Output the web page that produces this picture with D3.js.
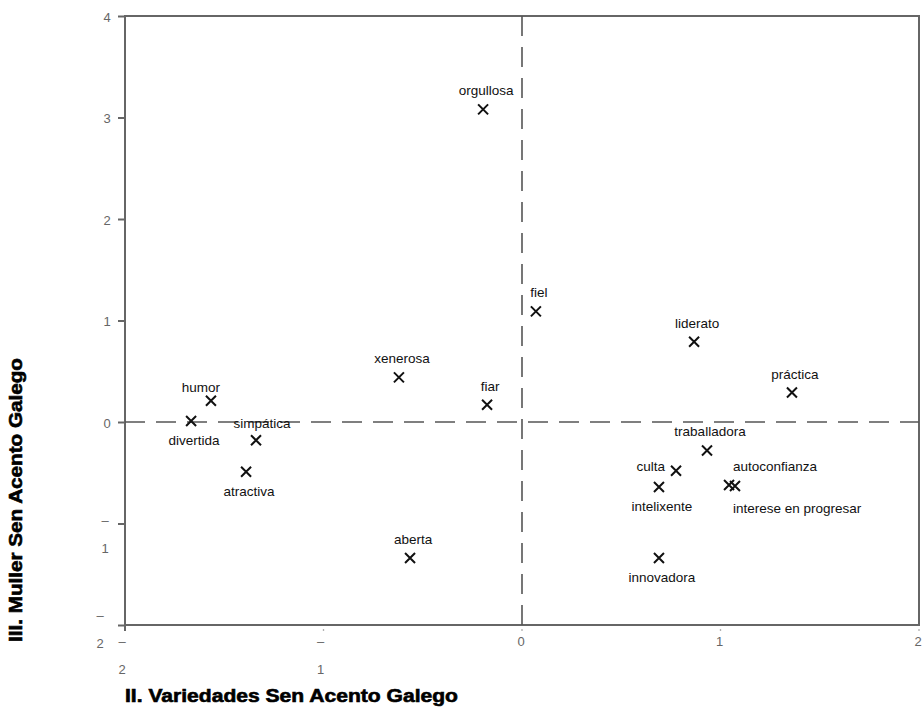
<!DOCTYPE html>
<html>
<head>
<meta charset="utf-8">
<script src="https://cdn.jsdelivr.net/npm/d3@7"></script>
<style>
  html, body { margin: 0; padding: 0; background: #fff; }
  svg { display: block; }
</style>
</head>
<body>
<svg id="chart" width="923" height="709"></svg>
<script>
// Attribute coordinates on the two factors
const labels = ["orgullosa", "fiel", "liderato", "práctica", "xenerosa", "fiar", "humor", "divertida",
  "simpática", "atractiva", "aberta", "traballadora", "culta", "intelixente", "autoconfianza",
  "interese en progresar", "innovadora"];
const xValues = [-0.196, 0.07, 0.867, 1.36, -0.62, -0.176, -1.567, -1.667,
  -1.34, -1.39, -0.564, 0.932, 0.776, 0.69, 1.043, 1.073, 0.69];
const yValues = [3.08, 1.09, 0.79, 0.29, 0.44, 0.17, 0.21, 0.01,
  -0.18, -0.49, -1.34, -0.28, -0.48, -0.64, -0.62, -0.63, -1.34];
// where each label sits relative to its marker
const labelSide = ["top", "top", "top", "top", "top", "top", "top-left", "bottom",
  "top-right", "bottom", "top", "top", "left", "bottom", "top-start", "bottom-start", "bottom"];

const xTicks = [-2, -1, 0, 1, 2];
const yTicks = [-2, -1, 0, 1, 2, 3, 4];
const xTitle = "II. Variedades Sen Acento Galego";
const yTitle = "III. Muller Sen Acento Galego";

(function draw() {
  const svg = d3.select("#chart");
  const pL = 125, pR = 919, pT = 16, pB = 625;

  const x = d3.scaleLinear().domain([-2, 2]).range([pL, pR]);
  const y = d3.scaleLinear().domain([-2, 4]).range([pB, pT]);

  const axisColor = "#666";
  const tickFont = "Liberation Sans, Arial, sans-serif";

  // frame
  svg.append("rect")
    .attr("x", pL).attr("y", pT)
    .attr("width", pR - pL).attr("height", pB - pT)
    .attr("fill", "none").attr("stroke", axisColor).attr("stroke-width", 2);

  // dashed reference lines through the origin
  svg.append("line")
    .attr("x1", x(0)).attr("x2", x(0)).attr("y1", pT).attr("y2", pB)
    .attr("stroke", "#555").attr("stroke-width", 1.6).attr("stroke-dasharray", "20,11");
  svg.append("line")
    .attr("x1", pL).attr("x2", pR).attr("y1", y(0)).attr("y2", y(0))
    .attr("stroke", "#555").attr("stroke-width", 1.6).attr("stroke-dasharray", "20,11");

  // y axis
  const yAxis = d3.axisLeft(y).tickValues(yTicks).tickSize(7).tickPadding(7).tickFormat("");
  const gy = svg.append("g").attr("transform", `translate(${pL},0)`).call(yAxis);
  gy.select(".domain").remove();
  gy.selectAll(".tick line").attr("stroke", axisColor).attr("stroke-width", 2);
  gy.selectAll(".tick text").remove();
  gy.selectAll(".tick").each(function(d) {
    const t = d3.select(this);
    const txt = t.append("text")
      .attr("fill", "#666").attr("font-family", tickFont).attr("font-size", 13)
      .attr("text-anchor", "middle");
    if (d < 0) {
      const lx = d === -1 ? -20 : -25;
      const ly = d === -1 ? 1 : -6;
      txt.attr("x", lx).attr("y", ly);
      txt.append("tspan").text("–");
      txt.append("tspan").attr("x", lx).attr("dy", 28).text(String(-d));
    } else {
      txt.attr("x", -18).attr("y", 5).text(d);
    }
  });

  // x axis
  const gx = svg.append("g").attr("transform", `translate(0,${pB})`);
  gx.selectAll(".xt").data(xTicks).join("g")
    .attr("class", "xt")
    .attr("transform", d => `translate(${x(d)},0)`)
    .each(function(d) {
      const t = d3.select(this);
      if (d === -2) t.append("line").attr("y1", 0).attr("y2", 6).attr("stroke", axisColor).attr("stroke-width", 2);
      else t.append("circle").attr("cy", 5).attr("r", 0.8).attr("fill", "#888");
      const txt = t.append("text")
        .attr("fill", "#666").attr("font-family", tickFont).attr("font-size", 13)
        .attr("text-anchor", "middle");
      if (d < 0) {
        txt.attr("x", -3).attr("y", 21);
        txt.append("tspan").text("–");
        txt.append("tspan").attr("x", -3).attr("dy", 28).text(String(-d));
      } else {
        txt.attr("x", -1).attr("y", 21).text(d);
      }
    });

  // axis titles
  svg.append("text")
    .attr("x", 125).attr("y", 702)
    .attr("font-family", "Liberation Sans, Arial, sans-serif")
    .attr("font-weight", "bold").attr("font-size", 18).attr("fill", "#000")
    .attr("stroke", "#000").attr("stroke-width", 0.6)
    .attr("textLength", 333).attr("lengthAdjust", "spacingAndGlyphs")
    .text(xTitle);
  svg.append("text")
    .attr("transform", `translate(22,500) rotate(-90)`)
    .attr("text-anchor", "middle")
    .attr("font-family", "Liberation Sans, Arial, sans-serif")
    .attr("font-weight", "bold").attr("font-size", 18).attr("fill", "#000")
    .attr("stroke", "#000").attr("stroke-width", 0.6)
    .attr("textLength", 284).attr("lengthAdjust", "spacingAndGlyphs")
    .text(yTitle);

  // markers and labels
  const pts = labels.map((name, i) => ({ name, vx: xValues[i], vy: yValues[i], side: labelSide[i] }));
  const m = 5;
  const pg = svg.append("g").selectAll(".pt").data(pts).join("g")
    .attr("class", "pt")
    .attr("transform", d => `translate(${x(d.vx)},${y(d.vy)})`);
  pg.append("path")
    .attr("d", `M${-m},${-m}L${m},${m}M${-m},${m}L${m},${-m}`)
    .attr("stroke", "#111").attr("stroke-width", 2).attr("fill", "none");

  const place = {
    "top": { dx: 3, dy: -14, anchor: "middle" },
    "bottom": { dx: 3, dy: 24, anchor: "middle" },
    "left": { dx: -11, dy: 0, anchor: "end" },
    "top-left": { dx: -10, dy: -9, anchor: "middle" },
    "top-right": { dx: 6, dy: -12, anchor: "middle" },
    "top-start": { dx: 4, dy: -14, anchor: "start" },
    "bottom-start": { dx: -2, dy: 27, anchor: "start" }
  };
  pg.append("text")
    .attr("font-family", "Liberation Sans Narrow, Arial Narrow, sans-serif")
    .attr("font-size", 13.5).attr("fill", "#111")
    .attr("text-anchor", d => place[d.side].anchor)
    .attr("x", d => place[d.side].dx)
    .attr("y", d => place[d.side].dy)
    .text(d => d.name);
})();
</script>
</body>
</html>
